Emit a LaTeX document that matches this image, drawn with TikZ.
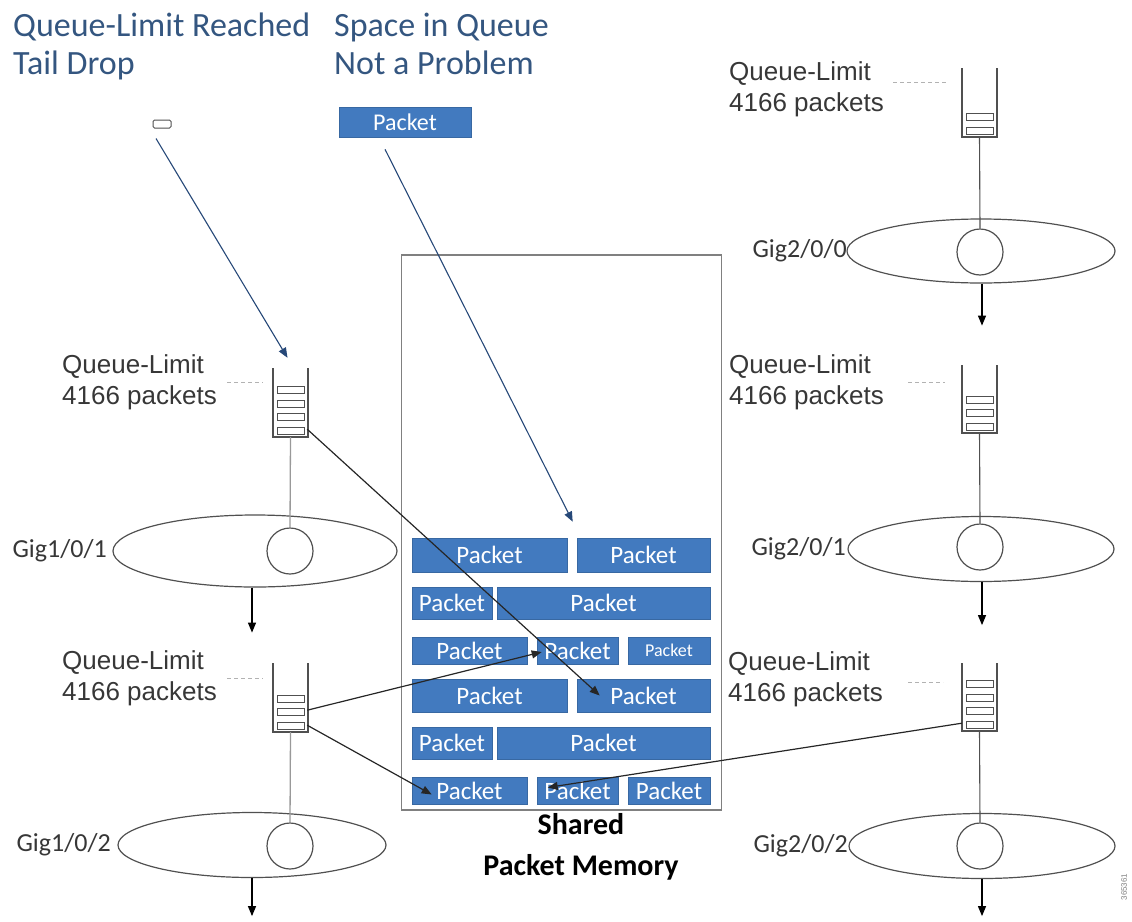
\documentclass[tikz,border=0pt]{standalone}
\usepackage{fontspec}
\setmainfont{Carlito}
\newfontfamily\arialf{Liberation Sans}
\usetikzlibrary{arrows.meta,shapes.geometric,calc}
\definecolor{titleblue}{RGB}{52,86,128}
\definecolor{pktblue}{RGB}{66,122,191}
\definecolor{arrblue}{RGB}{38,72,120}
\definecolor{linegray}{RGB}{80,80,80}
\definecolor{txtgray}{RGB}{55,55,55}
\newcommand\pkt[6][]{\node[pkt,minimum width={#4-#3},minimum height={#6-#5},#1] (#2) at ({(#3+#4)/2},{(#5+#6)/2}) {Packet};}
% name, left x, top y, bottom y, number of bars
\newcommand\qicon[5]{%
  \node[inner sep=0,minimum width=35,minimum height={#4-#3}] (#1) at ({#2+17.5},{(#3+#4)/2}) {};
  \draw[qwall] (#2,#3) -- (#2,#4) -- ({#2+35},#4) -- ({#2+35},#3);
  \foreach \k in {1,...,#5}{\draw[qbar] ({#2+4},{#4-3-13.5*(\k-1)}) rectangle ({#2+31},{#4-10-13.5*(\k-1)});}
}
\begin{document}
\begin{tikzpicture}[x=1pt,y=-1pt,
  title/.style={font=\fontsize{34}{40}\selectfont, text=titleblue, anchor=base west, inner sep=0},
  qlabel/.style={font=\arialf\fontsize{26}{31}\selectfont, text=txtgray, align=left, anchor=north west, inner sep=0},
  giglabel/.style={font=\fontsize{26}{30}\selectfont, text=txtgray, anchor=east, inner sep=0},
  pkt/.style={fill=pktblue, draw=pktblue!85!black, line width=0.6, text=white, inner sep=0, font=\fontsize{25}{30}\selectfont},
  iface/.style={ellipse, draw=linegray, line width=1.2, inner sep=0},
  port/.style={circle, draw=linegray, line width=1.2, minimum size=46, inner sep=0},
  qwall/.style={draw=linegray, line width=1.2},
  qbar/.style={draw=linegray, line width=1},
  limit/.style={draw=gray!60, dash pattern=on 4pt off 3pt, line width=0.8},
  pktarrow/.style={draw=black!85, line width=1.2, -{Triangle[length=10,width=8]}},
  droparrow/.style={draw=arrblue, line width=1.1, -{Triangle[length=10,width=8]}},
  outarrow/.style={draw=black, line width=1.2, -{Triangle[length=10,width=8]}},
  feed/.style={draw=gray!80, line width=1.3},
  feeddark/.style={draw=linegray, line width=1.1}
]
\useasboundingbox (0,0) rectangle (1132,921);

% titles
\node[title] (t1) at (13,36) {Queue-Limit Reached};
\node[title] (t2) at (13,74) {Tail Drop};
\node[title] (t3) at (334,36) {Space in Queue};
\node[title] (t4) at (334,74) {Not a Problem};

% dropped packet and accepted packet
\node[draw=linegray, line width=1, rounded corners=1.5, minimum width=18, minimum height=8, inner sep=0] (drop) at (162,124) {};
\pkt[font=\fontsize{24}{28}\selectfont]{toppkt}{339}{471}{107}{137}

% shared memory
\node[draw=gray, line width=1.2, minimum width=320, minimum height=555, inner sep=0] (mem) at (561.5,532.5) {};
\node[font=\bfseries\fontsize{30}{41}\selectfont, align=center, anchor=north, inner sep=0] (memlbl) at (581,813) {Shared\\Packet Memory};

\pkt{r1a}{412}{567}{538}{572}
\pkt{r1b}{577}{710}{538}{572}
\pkt{r2a}{412}{492}{587}{619}
\pkt{r2b}{497}{710}{587}{619}
\pkt{r3a}{412}{527}{637}{664}
\pkt{r3b}{537}{618}{637}{664}
\pkt[font=\fontsize{18}{22}\selectfont]{r3c}{628}{710}{637}{664}
\pkt{r4a}{412}{567}{679}{712}
\pkt{r4b}{577}{710}{679}{712}
\pkt{r5a}{412}{492}{727}{759}
\pkt{r5b}{497}{710}{727}{759}
\pkt{r6a}{412}{527}{777}{804}
\pkt{r6b}{537}{618}{777}{804}
\pkt{r6c}{628}{710}{777}{804}

% left interface Gig1/0/1
\qicon{ql1}{273}{368}{437}{4}
\node[qlabel] (ql1t) at (62,354) {Queue-Limit\\4166 packets};
\draw[limit] (227,382) -- (263,382);
\node[iface, minimum width=284, minimum height=72] (e11) at (255,551) {};
\node[port] (c11) at (290,551) {};
\node[giglabel] (g11) at (107,551) {Gig1/0/1};
\draw[feed] (ql1.south) -- (c11.north);
\coordinate (o11) at ($(e11.south)+(-3,45)$);
\draw[outarrow] ($(e11.south)+(-3,0)$) -- (o11);

% left interface Gig1/0/2
\qicon{ql2}{273}{663}{732}{3}
\node[qlabel] (ql2t) at (62,650) {Queue-Limit\\4166 packets};
\draw[limit] (227,678) -- (263,678);
\node[iface, minimum width=268, minimum height=65] (e12) at (252,845) {};
\node[port] (c12) at (290,846) {};
\node[giglabel] (g12) at (111,845) {Gig1/0/2};
\draw[feed] (ql2.south) -- (c12.north);
\coordinate (o12) at ($(e12.south)+(0,38)$);
\draw[outarrow] (e12.south) -- (o12);

% right interface Gig2/0/0
\qicon{qr0}{962}{68}{137}{2}
\node[qlabel] (qr0t) at (729,61) {Queue-Limit\\4166 packets};
\draw[limit] (893,82) -- (948,82);
\node[iface, minimum width=268, minimum height=64] (e20) at (981,251) {};
\node[port] (c20) at (980,252) {};
\node[giglabel] (g20) at (847,251) {Gig2/0/0};
\draw[feeddark] (qr0.south) -- (c20.north);
\coordinate (o20) at ($(e20.south)+(1,42)$);
\draw[outarrow] ($(e20.south)+(1,0)$) -- (o20);

% right interface Gig2/0/1
\qicon{qr1}{962}{365}{433}{3}
\node[qlabel] (qr1t) at (729,354) {Queue-Limit\\4166 packets};
\draw[limit] (908,382) -- (945,382);
\node[iface, minimum width=266, minimum height=65] (e21) at (981,549) {};
\node[port] (c21) at (980,547) {};
\node[giglabel] (g21) at (846,549) {Gig2/0/1};
\draw[feeddark] (qr1.south) -- (c21.north);
\coordinate (o21) at ($(e21.south)+(1,43)$);
\draw[outarrow] ($(e21.south)+(1,0)$) -- (o21);

% right interface Gig2/0/2
\qicon{qr2}{962}{663}{731}{4}
\node[qlabel] (qr2t) at (728,651) {Queue-Limit\\4166 packets};
\draw[limit] (908,682) -- (943,682);
\node[iface, minimum width=266, minimum height=65] (e22) at (982,846) {};
\node[port] (c22) at (980,846) {};
\node[giglabel] (g22) at (848,846) {Gig2/0/2};
\draw[feeddark] (qr2.south) -- (c22.north);
\coordinate (o22) at ($(e22.south)+(0,37)$);
\draw[outarrow] (e22.south) -- (o22);

% blue arrows
\draw[droparrow] ($(drop.south)+(-6,10)$) -- ($(ql1.north)+(-3,-10)$);
\draw[droparrow] ($(toppkt.south)+(-20,12)$) -- ($(r1b.north west)+(-4,-16)$);

% packet pointer arrows
\draw[pktarrow] ($(ql1.south east)+(-1,-8)$) -- ($(r4b.west)+(23,0)$);
\draw[pktarrow] ($(ql2.south east)+(-1,-22)$) -- ($(r3b.west)+(5,1.5)$);
\draw[pktarrow] ($(ql2.south east)+(-1,-7)$) -- ($(r6a.west)+(20,4)$);
\draw[pktarrow] ($(qr2.south west)+(0,-8)$) -- ($(r6b.west)+(11,-3)$);

% figure number
\node[rotate=90, font=\arialf\fontsize{8}{9}\selectfont, text=gray, inner sep=0] (fignum) at (1124,887) {365361};
\end{tikzpicture}
\end{document}
